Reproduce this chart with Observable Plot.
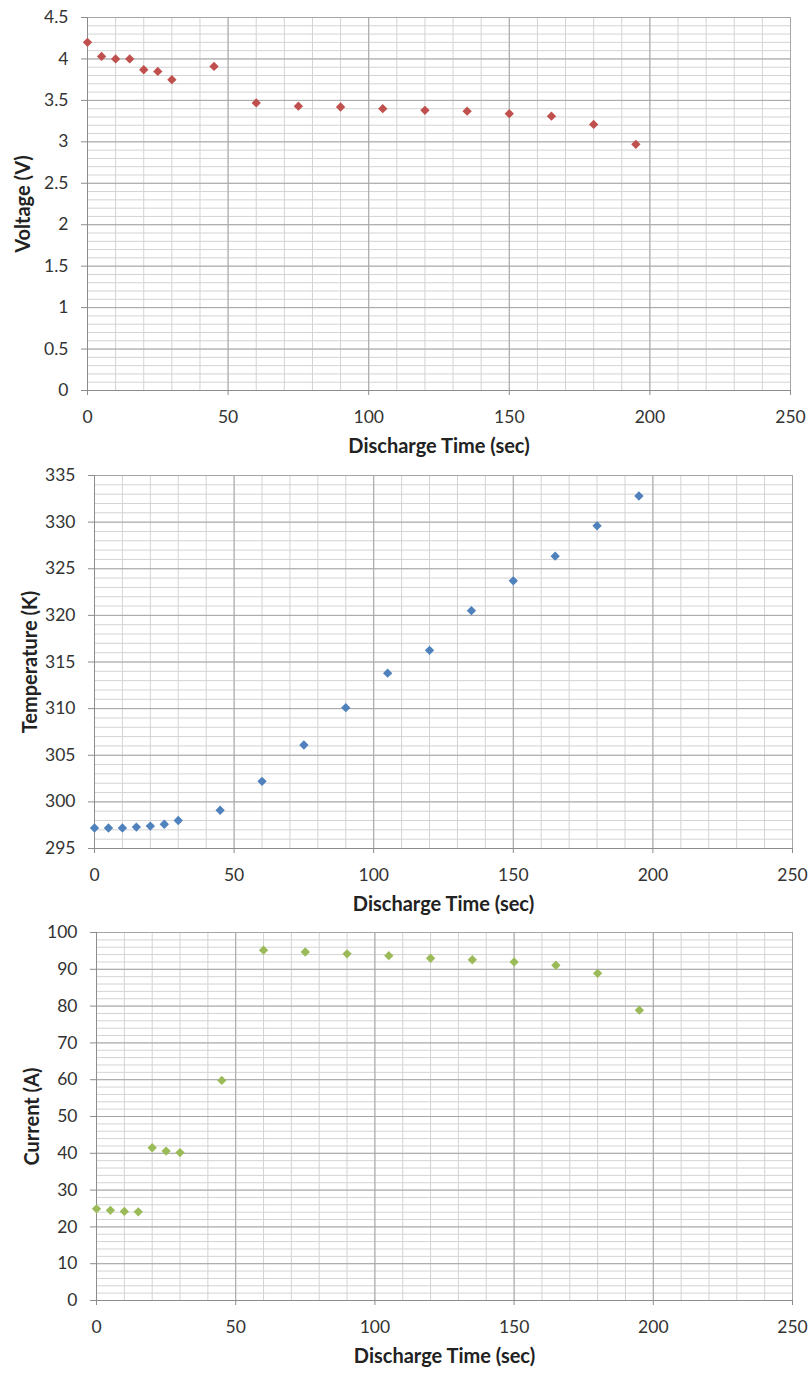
<!DOCTYPE html>
<html>
<head>
<meta charset="utf-8">
<script src="https://cdn.jsdelivr.net/npm/d3@7"></script>
<script src="https://cdn.jsdelivr.net/npm/@observablehq/plot@0.6"></script>
<style>
  html, body { margin: 0; padding: 0; background: #fff; }
  #charts svg { display: block; }
</style>
</head>
<body>
<div id="charts"></div>
<script>
// ---- data ----
const time = [0, 5, 10, 15, 20, 25, 30, 45, 60, 75, 90, 105, 120, 135, 150, 165, 180, 195];
const voltage = [4.2, 4.03, 4.0, 4.0, 3.87, 3.85, 3.75, 3.91, 3.47, 3.43, 3.42, 3.40, 3.38, 3.37, 3.34, 3.31, 3.21, 2.97];
const temperature = [297.2, 297.2, 297.2, 297.3, 297.4, 297.6, 298.0, 299.1, 302.2, 306.1, 310.1, 313.8, 316.25, 320.5, 323.7, 326.35, 329.6, 332.8];
const current = [24.9, 24.5, 24.2, 24.1, 41.5, 40.6, 40.2, 59.8, 95.2, 94.7, 94.2, 93.7, 93.0, 92.6, 92.0, 91.1, 88.9, 78.9];

const xTicks = [0, 50, 100, 150, 200, 250];
const voltageTicks = [0, 0.5, 1, 1.5, 2, 2.5, 3, 3.5, 4, 4.5];
const temperatureTicks = [295, 300, 305, 310, 315, 320, 325, 330, 335];
const currentTicks = [0, 10, 20, 30, 40, 50, 60, 70, 80, 90, 100];

const xLabel = "Discharge Time (sec)";
const voltageLabel = "Voltage (V)";
const temperatureLabel = "Temperature (K)";
const currentLabel = "Current (A)";

const colors = {voltage: "#C0504D", temperature: "#4F81BD", current: "#9BBB59"};

// ---- chart builder ----
function makeChart({values, yTicks, yMinorStep, color, yLabel, height, marginTop, marginBottom, marginLeft, marginRight}) {
  const rows = time.map((t, i) => ({t, v: values[i]}));
  const yDomain = [yTicks[0], yTicks[yTicks.length - 1]];
  const xMinor = d3.range(0, 250 + 1e-9, 10);
  const yMinor = d3.range(yDomain[0], yDomain[1] + 1e-9, yMinorStep);
  return Plot.plot({
    width: 811,
    height,
    marginTop, marginBottom, marginLeft, marginRight,
    style: {fontFamily: "Lato, 'Open Sans', sans-serif", fontSize: "17px", color: "#333", background: "#fff"},
    x: {domain: [0, 250]},
    y: {domain: yDomain},
    marks: [
      Plot.gridX(xMinor, {stroke: "#d3d3d3", strokeOpacity: 1}),
      Plot.gridY(yMinor, {stroke: "#d3d3d3", strokeOpacity: 1}),
      Plot.gridX(xTicks, {stroke: "#a6a6a6", strokeOpacity: 1}),
      Plot.gridY(yTicks, {stroke: "#a6a6a6", strokeOpacity: 1}),
      Plot.ruleX([0], {stroke: "#8c8c8c"}),
      Plot.ruleY([yDomain[0]], {stroke: "#8c8c8c"}),
      Plot.axisX({
        ticks: xTicks, tickSize: 5, tickPadding: 15, stroke: "#8c8c8c",
        tickFormat: d => String(d),
        label: null,
        fontSize: 17.5
      }),
      Plot.axisY({
        ticks: yTicks, tickSize: 6, tickPadding: 13, stroke: "#8c8c8c",
        tickFormat: d => String(d),
        label: null,
        fontSize: 17.5
      }),
      Plot.axisX({
        ticks: [], tickSize: 0, label: xLabel, labelAnchor: "center", labelOffset: 62,
        labelArrow: "none", fontWeight: "bold", fontSize: 20, fill: "#222"
      }),
      Plot.axisY({
        ticks: [], tickSize: 0, label: yLabel, labelAnchor: "center", labelOffset: 72,
        labelArrow: "none", fontWeight: "bold", fontSize: 20, fill: "#222"
      }),
      Plot.dot(rows, {x: "t", y: "v", symbol: "diamond2", r: 4.2, fill: color, stroke: null})
    ]
  });
}

const root = document.getElementById("charts");
root.append(makeChart({
  values: voltage, yTicks: voltageTicks, yMinorStep: 0.1, color: colors.voltage, yLabel: voltageLabel,
  height: 460, marginTop: 17, marginBottom: 70, marginLeft: 87, marginRight: 21
}));
root.append(makeChart({
  values: temperature, yTicks: temperatureTicks, yMinorStep: 1, color: colors.temperature, yLabel: temperatureLabel,
  height: 457, marginTop: 15, marginBottom: 69, marginLeft: 94, marginRight: 19
}));
root.append(makeChart({
  values: current, yTicks: currentTicks, yMinorStep: 2, color: colors.current, yLabel: currentLabel,
  height: 457, marginTop: 15, marginBottom: 74, marginLeft: 96, marginRight: 19
}));
</script>
</body>
</html>
